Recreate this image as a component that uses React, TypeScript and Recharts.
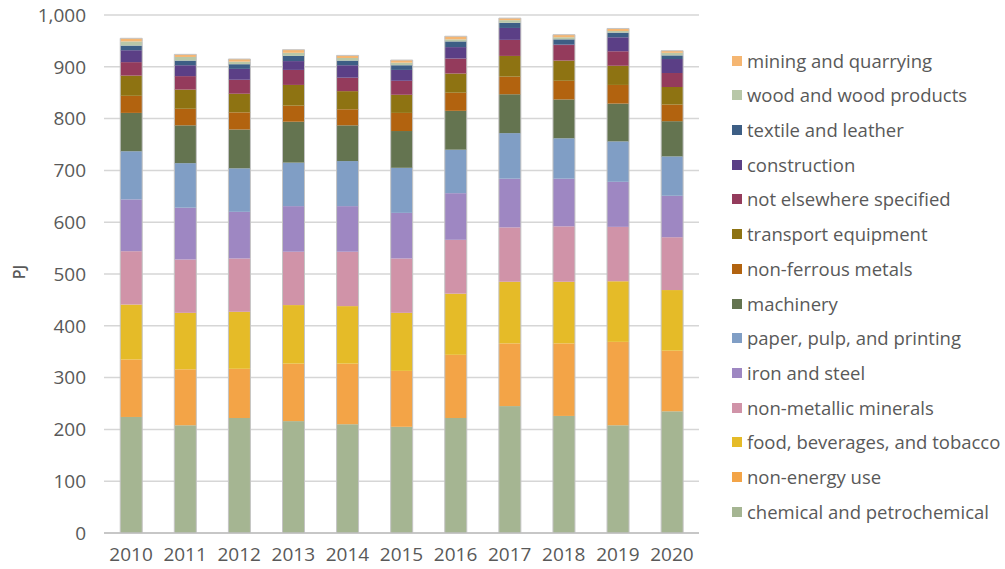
import { BarChart, Bar, XAxis, YAxis, CartesianGrid, Label } from "recharts";

const years = ["2010", "2011", "2012", "2013", "2014", "2015", "2016", "2017", "2018", "2019", "2020"];

// PJ by sector, bottom of the stack first
const chemical = [224, 208, 222, 216, 210, 205, 222, 245, 226, 208, 235];
const nonEnergy = [111, 108, 95, 111, 117, 108, 122, 121, 140, 161, 117];
const food = [106, 109, 110, 113, 111, 112, 118, 119, 119, 117, 117];
const nonMetallic = [103, 103, 103, 103, 105, 105, 104, 105, 107, 105, 102];
const ironSteel = [100, 100, 90, 88, 88, 88, 90, 94, 92, 87, 80];
const paper = [93, 86, 84, 84, 87, 87, 84, 88, 78, 78, 76];
const machinery = [74, 73, 75, 79, 69, 71, 75, 75, 75, 73, 68];
const nonFerrous = [33, 32, 33, 31, 31, 35, 35, 34, 36, 36, 32];
const transport = [39, 37, 36, 40, 35, 35, 37, 40, 39, 37, 34];
const notElsewhere = [26, 26, 27, 29, 26, 27, 29, 31, 30, 28, 27];
const construction = [23, 21, 21, 17, 24, 21, 22, 23, 1, 27, 27];
const textile = [9, 9, 9, 10, 9, 9, 11, 10, 10, 9, 7];
const wood = [8, 7, 5, 6, 5, 5, 4, 5, 4, 3, 5];
const mining = [6, 5, 5, 6, 5, 5, 6, 4, 5, 5, 4];

const yTicks = [0, 100, 200, 300, 400, 500, 600, 700, 800, 900, 1000];

const series = [
  { key: "chemical", name: "chemical and petrochemical", color: "#a5b592", values: chemical },
  { key: "nonEnergy", name: "non-energy use", color: "#f3a447", values: nonEnergy },
  { key: "food", name: "food, beverages, and tobacco", color: "#e5bb28", values: food },
  { key: "nonMetallic", name: "non-metallic minerals", color: "#d093a8", values: nonMetallic },
  { key: "ironSteel", name: "iron and steel", color: "#9e87c2", values: ironSteel },
  { key: "paper", name: "paper, pulp, and printing", color: "#809ec5", values: paper },
  { key: "machinery", name: "machinery", color: "#647450", values: machinery },
  { key: "nonFerrous", name: "non-ferrous metals", color: "#b2630f", values: nonFerrous },
  { key: "transport", name: "transport equipment", color: "#8e7312", values: transport },
  { key: "notElsewhere", name: "not elsewhere specified", color: "#943b5c", values: notElsewhere },
  { key: "construction", name: "construction", color: "#5b3f86", values: construction },
  { key: "textile", name: "textile and leather", color: "#3d5e85", values: textile },
  { key: "wood", name: "wood and wood products", color: "#b8c7a8", values: wood },
  { key: "mining", name: "mining and quarrying", color: "#f5b672", values: mining },
];

const data = years.map((year, i) => {
  const row: Record<string, string | number> = { year };
  series.forEach((s) => {
    row[s.key] = s.values[i];
  });
  return row;
});

const FONT = "'Open Sans', sans-serif";
const TEXT = "#595959";
const EDGE = "#c4c4c4";

// fill plus a thin grey outline on the sides (and on top for the last series)
function segment(top: boolean) {
  return (props: any) => {
    const { x, y, width, height, fill } = props;
    if (!height || height <= 0) return <g />;
    return (
      <g>
        <rect x={x} y={y} width={width} height={height} fill={fill} />
        <line x1={x} y1={y} x2={x} y2={y + height} stroke={EDGE} strokeWidth={1} />
        <line x1={x + width} y1={y} x2={x + width} y2={y + height} stroke={EDGE} strokeWidth={1} />
        {top && <line x1={x} y1={y} x2={x + width} y2={y} stroke={EDGE} strokeWidth={1} />}
      </g>
    );
  };
}

export default function App() {
  const legendItems = [...series].reverse();
  return (
    <div style={{ position: "absolute", left: 0, top: 0, width: 1005, height: 569, background: "#fff", fontFamily: FONT }}>
      <BarChart
        width={1005}
        height={569}
        data={data}
        margin={{ top: 15, right: 306, bottom: 6, left: 0 }}
        barCategoryGap="30%"
      >
        <CartesianGrid vertical={false} stroke="#d6d6d6" strokeWidth={1.5} />
        <XAxis
          dataKey="year"
          height={30}
          tick={{ fontSize: 19, fill: TEXT, fontFamily: FONT }}
          tickLine={false}
          tickSize={0}
          tickMargin={15}
          axisLine={{ stroke: "#bfbfbf", strokeWidth: 1.5 }}
        />
        <YAxis
          width={104}
          domain={[0, 1000]}
          ticks={yTicks}
          tickFormatter={(v: number) => v.toLocaleString("en-US")}
          tick={{ fontSize: 19, fill: TEXT, fontFamily: FONT }}
          tickLine={false}
          tickSize={0}
          tickMargin={18}
          axisLine={false}
        >
          <Label
            content={() => (
              <text
                x={19}
                y={272}
                transform="rotate(-90, 19, 272)"
                textAnchor="middle"
                dominantBaseline="central"
                fontSize={16}
                fontWeight={600}
                fill={TEXT}
                fontFamily={FONT}
              >
                PJ
              </text>
            )}
          />
        </YAxis>
        {series.map((s, i) => (
          <Bar
            key={s.key}
            dataKey={s.key}
            name={s.name}
            stackId="a"
            fill={s.color}
            isAnimationActive={false}
            shape={segment(i === series.length - 1)}
          />
        ))}
      </BarChart>
      <div style={{ position: "absolute", left: 732, top: 43.35 }}>
        {legendItems.map((s) => (
          <div
            key={s.key}
            style={{ display: "flex", alignItems: "center", height: 34.7, whiteSpace: "nowrap" }}
          >
            <span style={{ display: "inline-block", width: 10, height: 10, background: s.color, marginRight: 5 }} />
            <span style={{ fontSize: 18.5, color: TEXT, lineHeight: "20px" }}>{s.name}</span>
          </div>
        ))}
      </div>
    </div>
  );
}
